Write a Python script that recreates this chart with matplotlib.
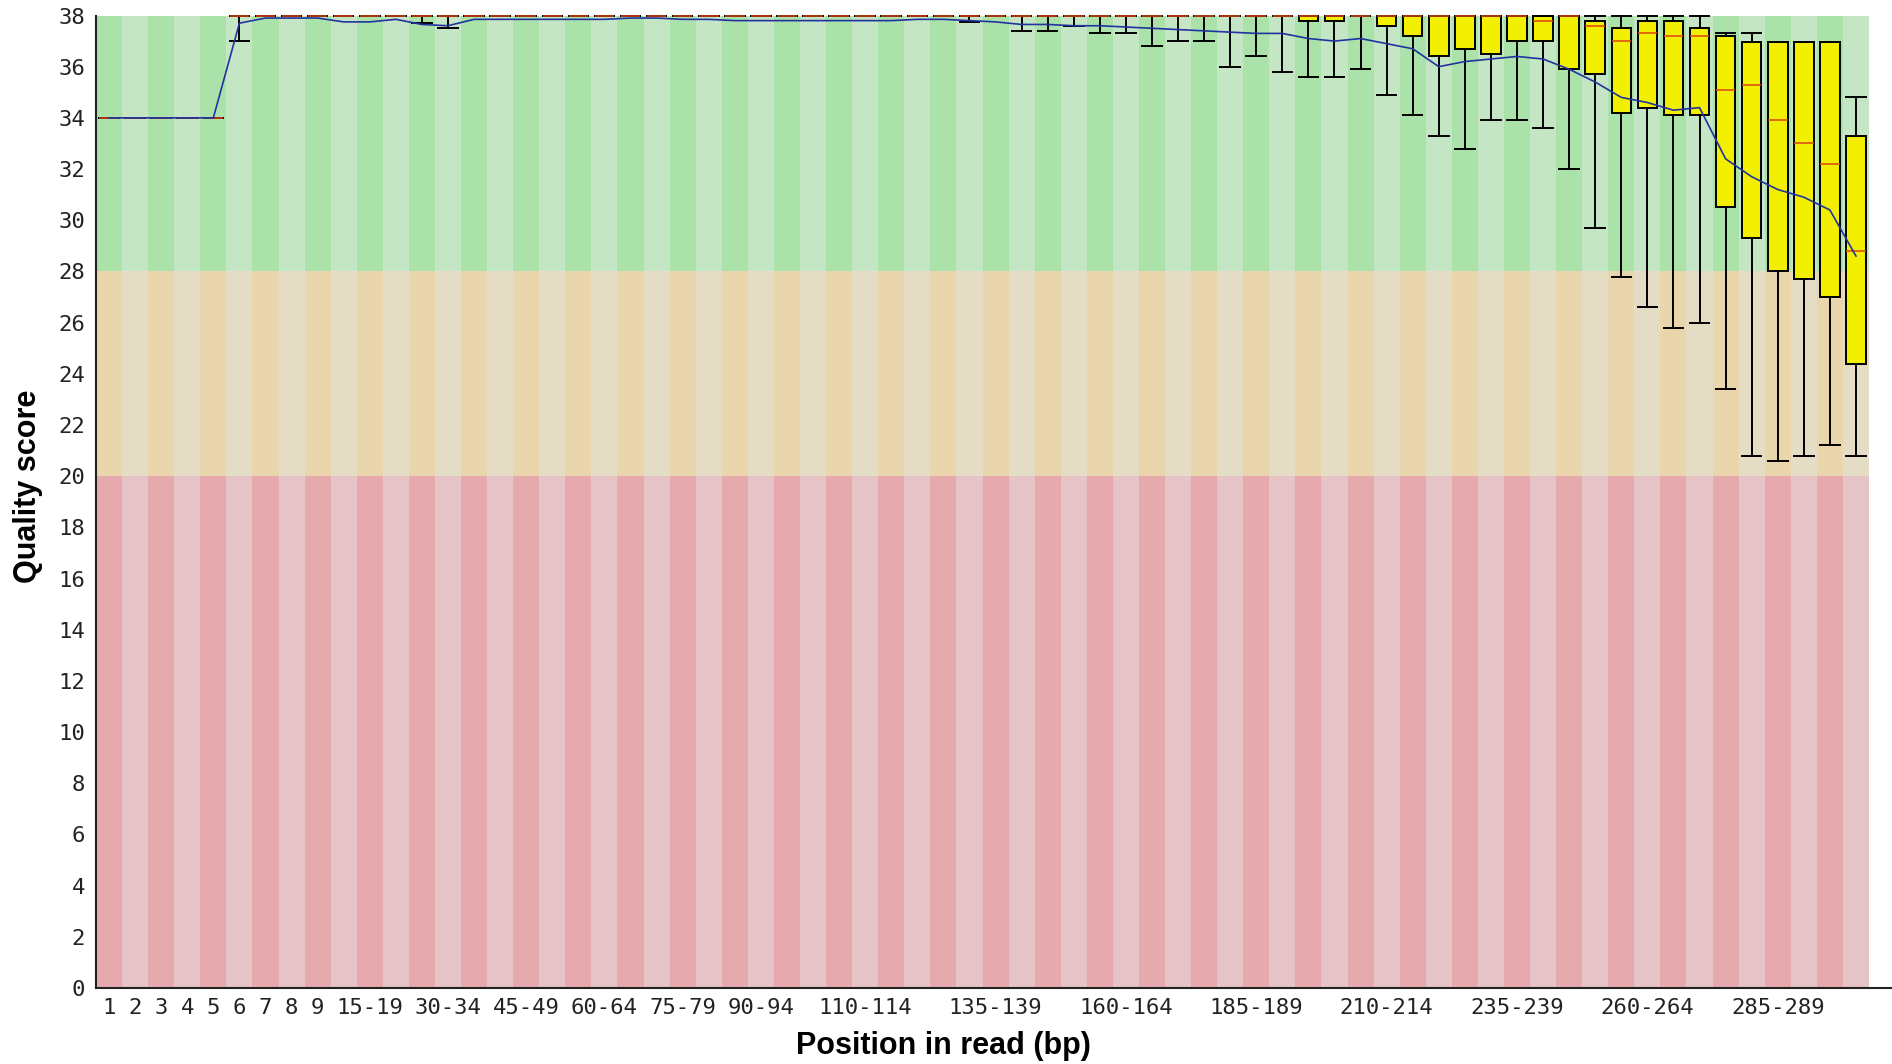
import matplotlib
matplotlib.use("Agg")
import matplotlib.pyplot as plt
from matplotlib.patches import Rectangle
from matplotlib.lines import Line2D

# position labels (68 columns: 1..9, then 5-bp groups)
positions = [str(i) for i in range(1, 10)]
positions += ["%d-%d" % (s, s + 4) for s in range(10, 300, 5)]
positions += ["300-301"]

shown_ticks = [0, 1, 2, 3, 4, 5, 6, 7, 8, 10, 13, 16, 19, 22, 25, 29, 34, 39, 44, 49, 54, 59, 64]

# per-column quality stats
whisker_low = ([34.0] * 5 + [37.0] + [38.0] * 6 + [37.7, 37.5] + [38.0] * 19
               + [37.75, 38.0, 37.4, 37.4, 37.6, 37.3, 37.3, 36.8, 37.0, 37.0,
                  36.0, 36.4, 35.8, 35.6, 35.6, 35.9, 34.9, 34.1, 33.3, 32.8,
                  33.9, 33.9, 33.6, 32.0, 29.7, 27.8, 26.6, 25.8, 26.0, 23.4,
                  20.8, 20.6, 20.8, 21.2, 20.8])
q1 = ([34.0] * 5 + [38.0] * 41
      + [37.8, 37.8, 38.0, 37.6, 37.2, 36.4, 36.7, 36.5, 37.0, 37.0,
         35.9, 35.7, 34.2, 34.4, 34.1, 34.1, 30.5, 29.3, 28.0, 27.7,
         27.0, 24.4])
medians = ([34.0] * 5 + [38.0] * 50
           + [37.8, 38.0, 37.6, 37.0, 37.3, 37.2, 37.2, 35.1, 35.3, 33.9,
              33.0, 32.2, 28.8])
q3 = ([34.0] * 5 + [38.0] * 52
      + [37.8, 37.5, 37.8, 37.8, 37.5, 37.2, 36.95, 36.95, 36.95, 36.95, 33.3])
whisker_high = ([34.0] * 5 + [38.0] * 57
                + [37.3, 37.3, 36.95, 36.95, 36.95, 34.8])
means = ([34.0] * 5 + [37.7, 37.9, 37.9, 37.9, 37.75, 37.75, 37.85, 37.65, 37.6]
         + [37.85] * 6 + [37.9, 37.9, 37.85, 37.85] + [37.8] * 7
         + [37.85, 37.85, 37.8, 37.75, 37.65, 37.65, 37.6, 37.6, 37.55, 37.5,
            37.45, 37.4, 37.35, 37.3, 37.3, 37.1, 37.0, 37.1, 36.9, 36.7,
            36.0, 36.2, 36.3, 36.4, 36.3, 35.9, 35.4, 34.8, 34.6, 34.3,
            34.4, 32.4, 31.7, 31.2, 30.9, 30.4, 28.6])

# quality bands: (low, high, dark colour, light colour)
bands = [
    (0, 20, "#e6aaae", "#e6c3c6"),
    (20, 28, "#ead6ac", "#e4dcc4"),
    (28, 38, "#aae2aa", "#c4e6c4"),
]

fig = plt.figure(figsize=(18.92, 10.64), dpi=100)
ax = fig.add_axes([96 / 1892, 76 / 1064, 1773 / 1892, 972.5 / 1064])

n = len(positions)
for i in range(n):
    for lo, hi, dark, light in bands:
        ax.add_patch(Rectangle((i - 0.5, lo), 1, hi - lo,
                               facecolor=dark if i % 2 == 0 else light,
                               edgecolor="none", zorder=0))

stats = []
for i in range(n):
    stats.append(dict(whislo=whisker_low[i], q1=q1[i], med=medians[i],
                      q3=q3[i], whishi=whisker_high[i], fliers=[]))

parts = ax.bxp(stats, positions=range(n), widths=0.75, capwidths=0.75,
               patch_artist=True, showfliers=False, manage_ticks=False,
               boxprops=dict(facecolor="#f2f000", edgecolor="black", linewidth=1.4),
               whiskerprops=dict(color="black", linewidth=1.4),
               capprops=dict(color="black", linewidth=1.4),
               medianprops=dict(color="#dd4411", linewidth=1.1),
               zorder=3)
for key in ["boxes", "whiskers", "caps", "medians"]:
    for art in parts[key]:
        art.set_clip_on(False)

ax.plot(range(n), means, color="#2233a0", linewidth=1.2, zorder=4, clip_on=False)

ax.set_xlim(-0.5, n - 0.5)
ax.set_ylim(0, 38)
ax.set_yticks(range(0, 39, 2))
ax.set_xticks(shown_ticks)
ax.set_xticklabels([positions[i] for i in shown_ticks])
ax.tick_params(length=0, labelsize=16, colors="#222222")
ax.tick_params(axis="y", pad=8)
ax.tick_params(axis="x", pad=7)
for lab in ax.get_xticklabels() + ax.get_yticklabels():
    lab.set_family("DejaVu Sans Mono")

for side in ["top", "right"]:
    ax.spines[side].set_visible(False)
for side in ["left", "bottom"]:
    ax.spines[side].set_linewidth(1.5)
    ax.spines[side].set_color("#222222")

# x axis line runs on to the right edge of the image
fig.add_artist(Line2D([1869 / 1892, 1.0], [76 / 1064, 76 / 1064],
                      transform=fig.transFigure, color="#222222", linewidth=1.5))

fig.text(943 / 1892, 1 - 1046 / 1064, "Position in read (bp)", ha="center",
         va="center", fontsize=22, fontweight="bold", family="Liberation Sans")
fig.text(28 / 1892, 1 - 486 / 1064, "Quality score", ha="center", va="center",
         rotation=90, fontsize=22, fontweight="bold", family="Liberation Sans")

fig.savefig("out.png", dpi=100)
